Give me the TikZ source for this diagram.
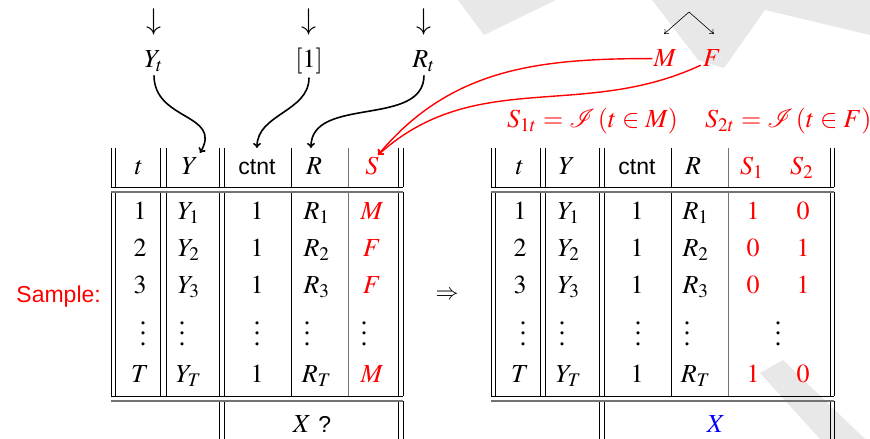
\documentclass[tikz,border=0pt]{standalone}
\usepackage{mathptmx}
\usepackage{mathrsfs}
\usepackage{fontspec}
\setmainfont{Liberation Serif}
\setsansfont{Liberation Sans}
\usetikzlibrary{arrows.meta}
\newcommand\T[1]{\scalebox{2.3}{#1}}
\newcommand\M[1]{\scalebox{2.6}{#1}}
\newcommand\myvd{\vbox{\baselineskip=4.1pt\lineskiplimit=0pt\hbox{.}\hbox{.}\hbox{.}}}
\tikzset{
  txt/.style={font=\fontsize{10}{12}\selectfont, inner sep=0pt, anchor=base},
  vl/.style={line width=0.9pt},
  gl/.style={line width=0.9pt, draw=black!55},
  hr/.style={line width=1.7pt, draw=black!55},
  blkarr/.style={line width=1.6pt, -{To[length=5pt,width=8pt]}},
  redarr/.style={line width=1.4pt, draw=red, -{To[length=5pt,width=8pt]}},
  thinarr/.style={line width=0.6pt, -{To[length=4pt,width=6pt]}},
  bg/.style={fill=black!9, draw=none}
}
\begin{document}
\begin{tikzpicture}[x=1pt,y=1pt]
\useasboundingbox (0,0) rectangle (870,439);
% background decoration
\fill[bg] (458,439) -- (556,439) -- (484,404) -- cycle;
\fill[bg] (652,439) -- (870,439) -- (870,404) -- (765,429) -- (724,371) -- (698,379) -- cycle;
\fill[bg] (760,66) -- (783,79) -- (865,0) -- (820,0) -- cycle;

% ---------- left table lines
\foreach \x in {111,115,160,166,219,224,291,398,403}{
  \draw[vl] (\x,291) -- (\x,252);
  \draw[vl] (\x,247) -- (\x,43);}
\draw[gl] (348,291) -- (348,252);
\draw[gl] (348,247) -- (348,43);
\foreach \x in {219,224,398,403}{\draw[vl] (\x,38) -- (\x,0);}
\draw[vl] (111,252) -- (403,252);
\draw[hr] (111,247) -- (403,247);
\draw[vl] (111,43) -- (403,43);
\draw[hr] (111,38) -- (403,38);

% ---------- right table lines
\foreach \x in {491,495,540,545,599,604,671,830,834}{
  \draw[vl] (\x,291) -- (\x,252);
  \draw[vl] (\x,247) -- (\x,43);}
\draw[gl] (728,291) -- (728,252);
\draw[gl] (728,247) -- (728,43);
\foreach \x in {599,604,830,834}{\draw[vl] (\x,38) -- (\x,0);}
\draw[vl] (491,252) -- (834,252);
\draw[hr] (491,247) -- (834,247);
\draw[vl] (491,43) -- (834,43);
\draw[hr] (491,38) -- (834,38);

% ---------- headers
\node[txt] (lht) at (139,264) {\M{$t$}};
\node[txt] (lhY) at (190,264) {\M{$Y$}};
\node[txt] (lhc) at (257,264) {\T{\sffamily ctnt}};
\node[txt] (lhR) at (314,264) {\M{$R$}};
\node[txt, text=red] (lhS) at (372,264) {\M{$S$}};

\node[txt] (rht) at (520,264) {\M{$t$}};
\node[txt] (rhY) at (567,264) {\M{$Y$}};
\node[txt] (rhc) at (637,264) {\T{\sffamily ctnt}};
\node[txt] (rhR) at (693,264) {\M{$R$}};
\node[txt, text=red] (rhS1) at (752,264) {\M{$S_1$}};
\node[txt, text=red] (rhS2) at (802,264) {\M{$S_2$}};

% ---------- data rows
\foreach \y/\n/\a/\b/\d/\e/\f/\g in {219/1/1/Y_1/R_1/M/1/0, 182/2/2/Y_2/R_2/F/0/1, 145/3/3/Y_3/R_3/F/0/1, 56/4/T/Y_T/R_T/M/1/0}{
  \node[txt] (la\n) at (140,\y) {\M{$\a$}};
  \node[txt] (lb\n) at (189,\y) {\M{$\b$}};
  \node[txt] (lc\n) at (257,\y) {\M{$1$}};
  \node[txt] (ld\n) at (317,\y) {\M{$\d$}};
  \node[txt, text=red] (le\n) at (372,\y) {\M{$\e$}};
  \node[txt] (ra\n) at (520,\y) {\M{$\a$}};
  \node[txt] (rb\n) at (569,\y) {\M{$\b$}};
  \node[txt] (rc\n) at (637,\y) {\M{$1$}};
  \node[txt] (rd\n) at (696,\y) {\M{$\d$}};
  \node[txt, text=red] (rf\n) at (753,\y) {\M{$\f$}};
  \node[txt, text=red] (rg\n) at (803,\y) {\M{$\g$}};
}
% dots row
\foreach \x/\n in {143/a,182/b,257/c,307/d,364/e}{\node[txt] (lv\n) at (\x,93.5) {\M{\myvd}};}
\foreach \x/\n in {523/a,562/b,638/c,687/d,778/e}{\node[txt] (rv\n) at (\x,93.5) {\M{\myvd}};}

% footers
\node[txt] (lfoot) at (312,6) {\M{$X$}\hspace{7pt}\T{\sffamily ?}};
\node[txt, text=blue] (rfoot) at (716,6) {\M{$X$}};

% side labels
\node[txt, anchor=base east, text=red] (sample) at (101,136) {\T{\sffamily Sample:}};
\node[txt, anchor=center] (impl) at (447,144) {\T{$\Rightarrow$}};

% ---------- top sources
\node[txt, anchor=center] (d1) at (154,417) {\scalebox{3.0}{$\downarrow$}};
\node[txt, anchor=center] (d2) at (309,417) {\scalebox{3.0}{$\downarrow$}};
\node[txt, anchor=center] (d3) at (424,417) {\scalebox{3.0}{$\downarrow$}};
\node[txt] (nYt) at (154,371) {\M{$Y_t$}};
\node[txt] (nOne) at (309,371) {\M{$[1]$}};
\node[txt] (nRt) at (424,371) {\M{$R_t$}};

\node[txt, text=red] (nM) at (665,372) {\M{$M$}};
\node[txt, text=red] (nF) at (712,372) {\M{$F$}};
\coordinate (split) at (689,427);
\coordinate (tipM) at (664,405);
\coordinate (tipF) at (714,405);
\draw[thinarr] (split) -- (tipM);
\draw[thinarr] (split) -- (tipF);

\node[txt, anchor=base west, text=red] (s1) at (507,311) {\M{$S_{1t}=\mathscr{I}\left(t\in M\right)$}};
\node[txt, anchor=base west, text=red] (s2) at (705,311) {\M{$S_{2t}=\mathscr{I}\left(t\in F\right)$}};

% ---------- arrows into header
\coordinate (yTip) at (200,286);
\coordinate (cTip) at (257,291);
\coordinate (rTip) at (311,291);
\coordinate (sTip) at (378,284);
\draw[blkarr] ([yshift=-3pt]nYt.south) to[out=-90,in=60,looseness=1.3] (yTip);
\draw[blkarr] ([yshift=-3pt]nOne.south) to[out=-90,in=90] (cTip);
\draw[blkarr] ([yshift=-3pt]nRt.south) to[out=-90,in=90] (rTip);
\draw[redarr] ([xshift=-1pt]nM.west) to[out=180,in=50] (sTip);
\draw[redarr] ([xshift=-2pt,yshift=2pt]nF.south west) to[out=205,in=42] (sTip);
\end{tikzpicture}
\end{document}
